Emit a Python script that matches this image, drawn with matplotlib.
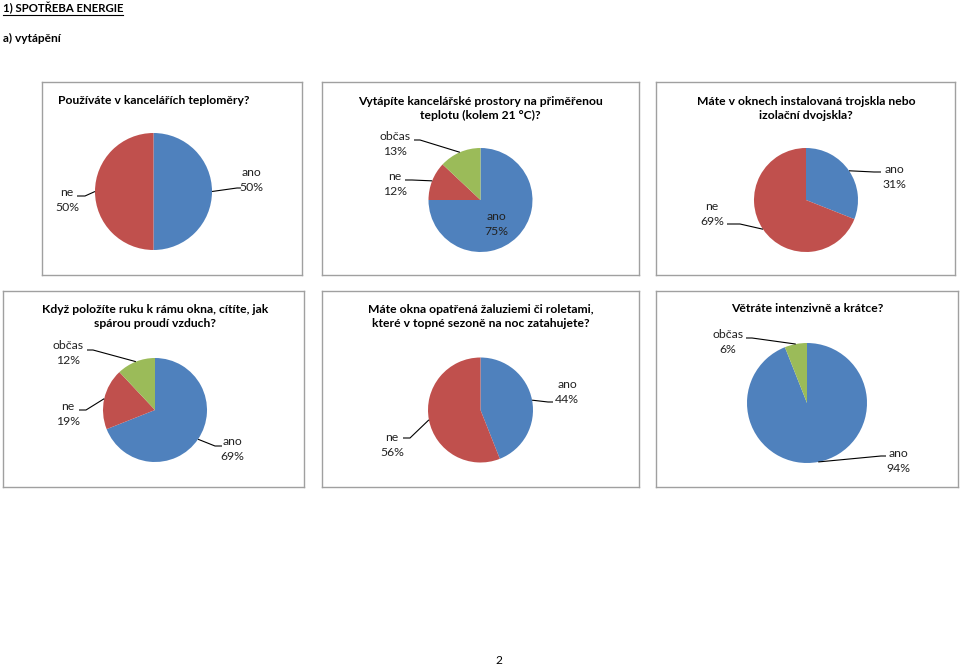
import numpy as np
import matplotlib.pyplot as plt
from matplotlib.lines import Line2D

W, H = 960, 665

# data
q1_title = 'Používáte v kancelářích teploměry?'
q1_labels = ['ano', 'ne']
q1_values = [50, 50]

q2_title = 'Vytápíte kancelářské prostory na přiměřenou\nteplotu (kolem 21 °C)?'
q2_labels = ['ano', 'ne', 'občas']
q2_values = [75, 12, 13]

q3_title = 'Máte v oknech instalovaná trojskla nebo\nizolační dvojskla?'
q3_labels = ['ano', 'ne']
q3_values = [31, 69]

q4_title = 'Když položíte ruku k rámu okna, cítíte, jak\nspárou proudí vzduch?'
q4_labels = ['ano', 'ne', 'občas']
q4_values = [69, 19, 12]

q5_title = 'Máte okna opatřená žaluziemi či roletami,\nkteré v topné sezoně na noc zatahujete?'
q5_labels = ['ano', 'ne']
q5_values = [44, 56]

q6_title = 'Větráte intenzivně a krátce?'
q6_labels = ['ano', 'občas']
q6_values = [94, 6]

colors = {'ano': '#4F81BD', 'ne': '#C0504D', 'občas': '#9BBB59'}

plt.rcParams['font.family'] = ['Lato', 'DejaVu Sans']

fig = plt.figure(figsize=(W / 100, H / 100), dpi=100)

# layout in page pixels: panel box, pie (cx, cy, r), title y,
# label positions: text centre, line anchor, elbow x (None = no line)
panels = [
    (q1_title, q1_labels, q1_values, (42, 82, 302, 275), (153.5, 191.5, 58.5), 100,
     {'ano': (251, 180, (241, 188), 237), 'ne': (67, 200, (77, 196), 85)}),
    (q2_title, q2_labels, q2_values, (322, 82, 639, 275), (480.5, 200, 52), 108.5,
     {'ano': (496, 224, None, None), 'ne': (395, 184, (405, 180), 412),
      'občas': (395, 144, (414, 140), 420)}),
    (q3_title, q3_labels, q3_values, (656, 82, 955, 275), (806, 200, 52), 108.5,
     {'ano': (894, 177, (881, 172), 874), 'ne': (712, 214, (727, 224), 740)}),
    (q4_title, q4_labels, q4_values, (3, 291, 304, 487), (155, 410, 52), 316.5,
     {'ano': (232, 449, (222, 446), 215), 'ne': (68, 414, (79, 410), 86),
      'občas': (68, 353, (87, 350), 93)}),
    (q5_title, q5_labels, q5_values, (322, 291, 639, 487), (480.5, 410, 52.5), 316.5,
     {'ano': (567, 392, (553, 402), 548), 'ne': (392, 445, (403, 438), 410)}),
    (q6_title, q6_labels, q6_values, (656, 291, 958, 487), (807, 403, 60), 308,
     {'ano': (898, 461, (886, 456), 881), 'občas': (728, 342, (746, 338), 752)}),
]

for title, labels, values, box, pie, title_y, lab_pos in panels:
    x0, y0, x1, y1 = box
    ax = fig.add_axes([x0 / W, 1 - y1 / H, (x1 - x0) / W, (y1 - y0) / H])
    cx, cy, r = pie
    wedges, _ = ax.pie(values, colors=[colors[l] for l in labels],
                       center=(cx, H - cy), radius=r, startangle=90,
                       counterclock=False, frame=True,
                       wedgeprops=dict(linewidth=0))
    ax.set_xlim(x0, x1)
    ax.set_ylim(H - y1, H - y0)
    ax.set_aspect('auto')
    ax.set_xticks([])
    ax.set_yticks([])
    for s in ax.spines.values():
        s.set_color('#a0a0a0')
        s.set_linewidth(1)

    ax.text(cx, H - title_y, title, ha='center', va='center', fontsize=8.7,
            fontweight='bold', linespacing=1.4, color='black')

    for w, lab, v in zip(wedges, labels, values):
        tx, ty, anchor, elbow = lab_pos[lab]
        ax.text(tx, H - ty, f'{lab}\n{v}%', ha='center', va='center',
                fontsize=8.8, linespacing=1.4, color='#222222')
        if anchor is None:
            continue
        mid = np.deg2rad((w.theta1 + w.theta2) / 2)
        ex = w.center[0] + w.r * np.cos(mid)
        ey = w.center[1] + w.r * np.sin(mid)
        ax.plot([anchor[0], elbow, ex], [H - anchor[1], H - anchor[1], ey],
                color='black', lw=0.8, solid_capstyle='butt')

# page headings
h1 = fig.text(3 / W, 1 - 8 / H, '1) SPOTŘEBA ENERGIE', fontsize=8.2,
              fontweight='bold', va='center', ha='left')
fig.text(3 / W, 1 - 38 / H, 'a) vytápění', fontsize=8.6, fontweight='bold',
         va='center', ha='left')
fig.text(499 / W, 1 - 660 / H, '2', fontsize=8.6, ha='center', va='center')

fig.canvas.draw()
bb = h1.get_window_extent()
fig.add_artist(Line2D([bb.x0 / W, bb.x1 / W], [(bb.y0 - 1) / H, (bb.y0 - 1) / H],
                      color='black', lw=0.8))

fig.savefig('out.png', dpi=100, facecolor='white')
